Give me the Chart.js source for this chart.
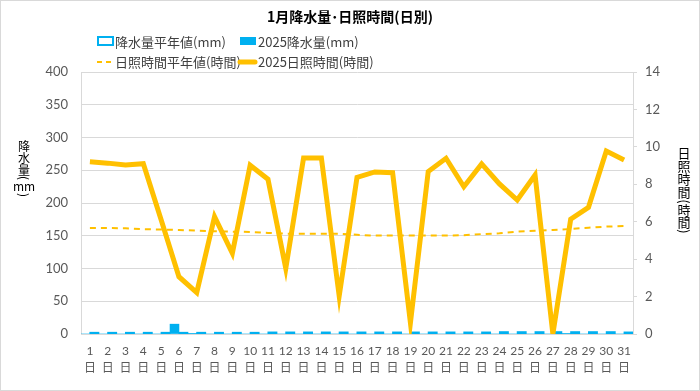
<!DOCTYPE html>
<html>
<head>
<meta charset="utf-8">
<script src="https://cdn.jsdelivr.net/npm/chart.js@4/dist/chart.umd.min.js"></script>
<style>
html,body{margin:0;padding:0;background:#fff;}
#wrap{width:700px;height:391px;position:relative;}
canvas{display:block;}
</style>
</head>
<body>
<div id="wrap"><canvas id="c" width="700" height="391"></canvas></div>
<script>
// ---- data ----
const TITLE = '1月降水量･日照時間(日別)';
const dayLabels = ['1','2','3','4','5','6','7','8','9','10','11','12','13','14','15','16','17','18','19','20','21','22','23','24','25','26','27','28','29','30','31'];
const dayUnit = '日';
const precipNormal = [2.5,2.5,2.5,2.5,2.5,2.5,2.5,2.5,2.5,2.5,3,3,3,3,3,3,3,3,3,3,3,3,3,3.5,3.5,3.5,3.5,3.5,3.5,3.5,3];
const precip2025   = [0,0,0,0,0,15,0.5,0,0,0,0,0,0,0,0,0,0,0,0,0,0,0,0,0,0,0,0,1,0,0,0];
const sunNormal    = [5.66,5.66,5.65,5.6,5.58,5.56,5.52,5.49,5.47,5.45,5.4,5.36,5.36,5.36,5.36,5.3,5.26,5.26,5.26,5.26,5.26,5.28,5.34,5.38,5.47,5.52,5.56,5.61,5.68,5.74,5.77];
const sun2025      = [9.2,9.13,9.03,9.1,6.1,3.06,2.21,6.27,4.31,9.02,8.27,3.51,9.41,9.41,2.03,8.37,8.66,8.62,0.6,8.68,9.39,7.87,9.09,8.02,7.16,8.5,0,6.13,6.77,9.78,9.3];
const seriesNames = ['降水量平年値(mm)','2025降水量(mm)','日照時間平年値(時間)','2025日照時間(時間)'];
const leftTitle = ['降','水','量','(','mm',')'];
const rightTitle = ['日','照','時','間','(','時','間',')'];

const BLUE = '#00B0F0';
const GOLD = '#FFC000';
const GRID = '#d9d9d9';
const TXT = '#595959';
const CJK = "'Noto Sans CJK JP', sans-serif";
const NUM = "Lato, 'Noto Sans CJK JP', sans-serif";

function stacked(ctx, items, x, ys) {
  items.forEach((t, i) => {
    if (t === '(' || t === ')') {
      ctx.save();
      ctx.translate(x, ys[i]);
      ctx.rotate(Math.PI / 2);
      ctx.fillText(t, 0, 0);
      ctx.restore();
    } else {
      ctx.fillText(t, x, ys[i]);
    }
  });
}

const decor = {
  id: 'decor',
  beforeDraw(chart) {
    const ctx = chart.ctx;
    ctx.save();
    ctx.fillStyle = '#fff';
    ctx.fillRect(0, 0, chart.width, chart.height);
    ctx.restore();
  },
  afterDraw(chart) {
    const ctx = chart.ctx;
    const ds = chart.data.datasets;
    ctx.save();
    ctx.strokeStyle = GRID;
    ctx.lineWidth = 1;
    ctx.strokeRect(0.5, 0.5, chart.width - 1, chart.height - 1);
    ctx.fillStyle = '#000';
    ctx.font = "bold 14px " + CJK;
    ctx.textAlign = 'center';
    ctx.textBaseline = 'middle';
    ctx.fillText(TITLE, 350, 17);
    ctx.font = "13px " + CJK;
    ctx.textAlign = 'left';
    ctx.fillStyle = '#fff';
    ctx.fillRect(98, 37, 15, 8);
    ctx.strokeStyle = ds[0].borderColor;
    ctx.lineWidth = 2;
    ctx.strokeRect(98, 37, 15, 8);
    ctx.fillStyle = '#404040';
    ctx.fillText(ds[0].label, 115, 42);
    ctx.fillStyle = ds[1].backgroundColor;
    ctx.fillRect(240, 37, 16, 8);
    ctx.fillStyle = '#404040';
    ctx.fillText(ds[1].label, 258, 42);
    ctx.strokeStyle = ds[2].borderColor;
    ctx.lineWidth = 2;
    ctx.setLineDash([5, 4]);
    ctx.beginPath();
    ctx.moveTo(97, 62); ctx.lineTo(114, 62);
    ctx.stroke();
    ctx.setLineDash([]);
    ctx.fillStyle = '#404040';
    ctx.fillText(ds[2].label, 115, 62);
    ctx.strokeStyle = ds[3].borderColor;
    ctx.lineWidth = 5;
    ctx.lineCap = 'round';
    ctx.beginPath();
    ctx.moveTo(240, 62); ctx.lineTo(255, 62);
    ctx.stroke();
    ctx.fillStyle = '#404040';
    ctx.fillText(ds[3].label, 258, 62);
    ctx.fillStyle = '#000';
    ctx.textAlign = 'center';
    ctx.font = "12px " + CJK;
    stacked(ctx, leftTitle, 24, [146, 158, 170, 178, 186, 195]);
    ctx.font = "13px " + CJK;
    stacked(ctx, rightTitle, 684, [153, 166, 179, 192, 201.5, 210.5, 222, 231.5]);
    ctx.restore();
  }
};

new Chart(document.getElementById('c'), {
  type: 'bar',
  data: {
    labels: dayLabels.map(d => [d, dayUnit]),
    datasets: [
      { type: 'bar', label: seriesNames[0], data: precipNormal, yAxisID: 'y',
        backgroundColor: BLUE, borderColor: BLUE, borderWidth: 0,
        inflateAmount: 0.5,
        categoryPercentage: 1.0, barPercentage: 1.0, order: 4 },
      { type: 'bar', label: seriesNames[1], data: precip2025, yAxisID: 'y',
        backgroundColor: BLUE, borderColor: BLUE, borderWidth: 0,
        categoryPercentage: 1.0, barPercentage: 1.0, order: 3 },
      { type: 'line', label: seriesNames[2], data: sunNormal, yAxisID: 'y1',
        borderColor: GOLD, borderWidth: 2, borderDash: [6, 5], pointRadius: 0,
        fill: false, tension: 0, order: 2 },
      { type: 'line', label: seriesNames[3], data: sun2025, yAxisID: 'y1',
        borderColor: GOLD, borderWidth: 5, pointRadius: 0, borderJoinStyle: 'miter',
        fill: false, tension: 0, order: 1 }
    ]
  },
  options: {
    responsive: false,
    devicePixelRatio: 1,
    animation: false,
    layout: { padding: { top: 72, left: 0, right: 0, bottom: 0 } },
    plugins: { legend: { display: false }, title: { display: false }, tooltip: { enabled: false } },
    scales: {
      x: {
        offset: true,
        grid: { display: true, drawOnChartArea: false, drawTicks: false },
        border: { display: true, color: GRID, width: 1 },
        ticks: { color: TXT, font: { family: NUM, size: 12, lineHeight: 1.42 }, padding: 9, maxRotation: 0, autoSkip: false },
        afterFit(s) { s.height = 57; }
      },
      y: {
        position: 'left', min: 0, max: 400,
        ticks: { stepSize: 50, color: TXT, font: { family: NUM, size: 13 }, padding: 13 },
        grid: { color: GRID, drawTicks: false },
        border: { display: true, color: GRID },
        afterFit(s) { s.width = 81; }
      },
      y1: {
        position: 'right', min: 0, max: 14,
        ticks: { stepSize: 2, color: TXT, font: { family: NUM, size: 13 }, padding: 8 },
        grid: { drawOnChartArea: false, drawTicks: true, tickLength: 4, color: GRID },
        border: { display: true, color: GRID },
        afterFit(s) { s.width = 67; }
      }
    }
  },
  plugins: [decor]
});
</script>
</body>
</html>
